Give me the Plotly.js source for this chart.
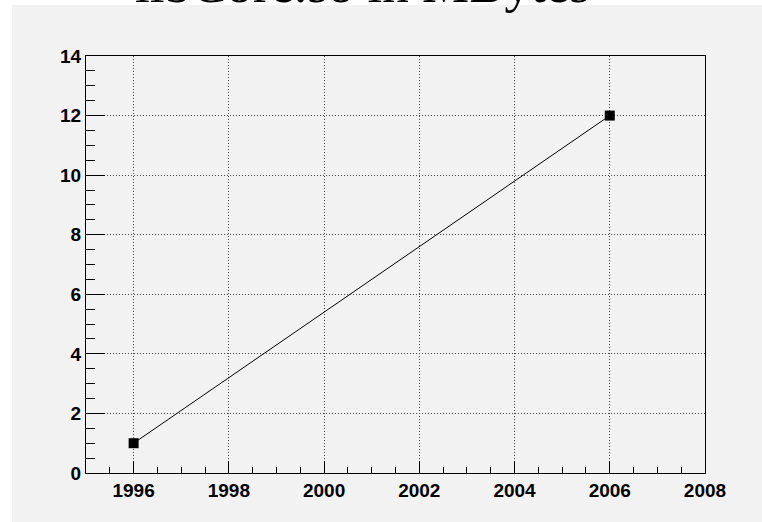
<!DOCTYPE html>
<html>
<head>
<meta charset="utf-8">
<script src="https://cdn.plot.ly/plotly-3.0.1.min.js"></script>
<style>html,body{margin:0;padding:0;background:#f2f2f2;overflow:hidden;}#chart{width:762px;height:522px;}</style>
</head>
<body>
<div id="chart"></div>
<script>
const titleText = "libCore.so in MBytes";
const years = [1996, 2006];
const sizesMB = [1, 12];
const xTickVals = [1996, 1998, 2000, 2002, 2004, 2006, 2008];
const yTickVals = [0, 2, 4, 6, 8, 10, 12, 14];

const data = [{
  type: 'scatter',
  mode: 'lines+markers',
  x: years,
  y: sizesMB,
  line: {color: '#000000', width: 1},
  marker: {symbol: 'square', size: 10, color: '#000000'},
  showlegend: false,
  hoverinfo: 'none'
}];

const axisCommon = {
  showline: true,
  linecolor: '#000000',
  linewidth: 1,
  mirror: true,
  ticks: 'inside',
  tickcolor: '#000000',
  showgrid: true,
  gridcolor: '#444444',
  griddash: '1px,2px',
  gridwidth: 1,
  zeroline: false,
  tickfont: {family: 'Liberation Sans, Arial, sans-serif', size: 19, color: '#000000', weight: 'bold'},
  fixedrange: true
};

const layout = {
  width: 762,
  height: 522,
  paper_bgcolor: '#f2f2f2',
  plot_bgcolor: '#f2f2f2',
  margin: {l: 86, r: 57, t: 56, b: 49, pad: 0},
  xaxis: Object.assign({}, axisCommon, {
    range: [1995, 2008],
    tickmode: 'array',
    tickvals: xTickVals,
    ticktext: xTickVals.map(String),
    ticklen: 12,
    minor: {dtick: 0.5, tick0: 1995, ticks: 'inside', ticklen: 6, tickcolor: '#000000', showgrid: false}
  }),
  yaxis: Object.assign({}, axisCommon, {
    range: [0, 14],
    tickmode: 'array',
    tickvals: yTickVals,
    ticktext: yTickVals.map(String),
    ticklen: 19,
    minor: {dtick: 0.5, tick0: 0, ticks: 'inside', ticklen: 9, tickcolor: '#000000', showgrid: false}
  }),
  shapes: [
    {
      type: 'rect', layer: 'below',
      xref: 'paper', yref: 'paper',
      x0: -0.2, x1: -0.1195, y0: -0.2, y1: 1.2,
      fillcolor: '#ffffff', line: {width: 0}
    },
    {
      type: 'rect', layer: 'below',
      xref: 'paper', yref: 'paper',
      x0: -0.2, x1: 1.2, y0: 1.1223, y1: 1.2,
      fillcolor: '#ffffff', line: {width: 0}
    }
  ],
  annotations: [{
    text: titleText,
    xref: 'paper', yref: 'paper',
    x: 0.447, y: 1.099,
    xanchor: 'center', yanchor: 'bottom',
    showarrow: false,
    font: {family: 'Liberation Serif, Times New Roman, serif', size: 53, color: '#000000'}
  }]
};

Plotly.newPlot('chart', data, layout, {displayModeBar: false, staticPlot: true});
</script>
</body>
</html>
